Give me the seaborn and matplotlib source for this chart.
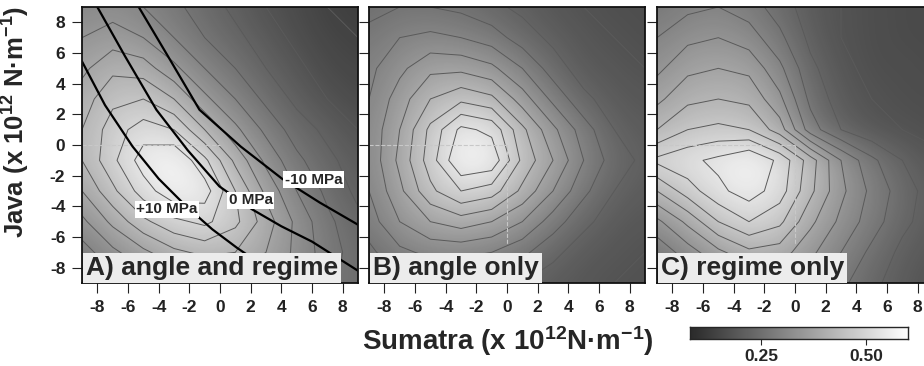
import numpy as np
import matplotlib
matplotlib.use("Agg")
import matplotlib.pyplot as plt
from matplotlib.colors import LinearSegmentedColormap
import seaborn as sns

# Nodos de la malla (x 10^12 N/m); filas de arriba (y=9) hacia abajo (y=-9)
grid_x = [-9, -7, -5, -3, -1, 1, 3, 5, 7, 9]
grid_y = [9, 7, 5, 3, 1, -1, -3, -5, -7, -9]

# A) angle and regime
panel_a = [
    [0.31, 0.32, 0.30, 0.27, 0.24, 0.21, 0.18, 0.16, 0.14, 0.13],
    [0.34, 0.36, 0.34, 0.30, 0.26, 0.23, 0.20, 0.17, 0.15, 0.14],
    [0.37, 0.41, 0.40, 0.35, 0.30, 0.26, 0.22, 0.19, 0.16, 0.15],
    [0.40, 0.45, 0.46, 0.42, 0.35, 0.30, 0.25, 0.21, 0.18, 0.16],
    [0.42, 0.48, 0.52, 0.50, 0.42, 0.35, 0.29, 0.24, 0.21, 0.18],
    [0.42, 0.49, 0.56, 0.58, 0.51, 0.41, 0.33, 0.27, 0.23, 0.20],
    [0.38, 0.45, 0.52, 0.57, 0.56, 0.46, 0.37, 0.30, 0.25, 0.21],
    [0.33, 0.39, 0.45, 0.49, 0.51, 0.47, 0.40, 0.33, 0.27, 0.23],
    [0.28, 0.33, 0.37, 0.41, 0.43, 0.42, 0.38, 0.33, 0.28, 0.24],
    [0.25, 0.28, 0.31, 0.33, 0.35, 0.36, 0.35, 0.31, 0.27, 0.24],
]

# B) angle only
panel_b = [
    [0.25, 0.26, 0.26, 0.25, 0.23, 0.21, 0.19, 0.18, 0.17, 0.17],
    [0.27, 0.30, 0.31, 0.30, 0.28, 0.24, 0.21, 0.19, 0.18, 0.17],
    [0.29, 0.33, 0.37, 0.37, 0.35, 0.30, 0.24, 0.20, 0.19, 0.18],
    [0.30, 0.36, 0.42, 0.45, 0.43, 0.36, 0.29, 0.23, 0.20, 0.19],
    [0.31, 0.38, 0.47, 0.55, 0.53, 0.43, 0.35, 0.28, 0.22, 0.20],
    [0.31, 0.39, 0.48, 0.58, 0.57, 0.45, 0.38, 0.30, 0.24, 0.21],
    [0.30, 0.37, 0.45, 0.50, 0.48, 0.41, 0.34, 0.27, 0.22, 0.20],
    [0.28, 0.34, 0.38, 0.40, 0.38, 0.34, 0.28, 0.23, 0.20, 0.19],
    [0.25, 0.29, 0.31, 0.31, 0.30, 0.27, 0.23, 0.20, 0.19, 0.18],
    [0.22, 0.24, 0.25, 0.25, 0.24, 0.22, 0.20, 0.19, 0.18, 0.18],
]

# C) regime only
panel_c = [
    [0.27, 0.29, 0.30, 0.28, 0.24, 0.20, 0.18, 0.17, 0.16, 0.16],
    [0.30, 0.33, 0.34, 0.32, 0.27, 0.21, 0.18, 0.17, 0.16, 0.16],
    [0.33, 0.37, 0.38, 0.37, 0.31, 0.23, 0.19, 0.17, 0.17, 0.16],
    [0.37, 0.41, 0.42, 0.41, 0.35, 0.25, 0.20, 0.18, 0.17, 0.17],
    [0.42, 0.46, 0.47, 0.46, 0.40, 0.28, 0.22, 0.19, 0.18, 0.17],
    [0.51, 0.53, 0.55, 0.58, 0.53, 0.44, 0.34, 0.27, 0.22, 0.19],
    [0.42, 0.48, 0.53, 0.56, 0.52, 0.43, 0.35, 0.29, 0.24, 0.20],
    [0.33, 0.39, 0.46, 0.50, 0.47, 0.39, 0.33, 0.28, 0.23, 0.20],
    [0.27, 0.32, 0.37, 0.41, 0.40, 0.35, 0.30, 0.25, 0.21, 0.19],
    [0.22, 0.26, 0.30, 0.33, 0.34, 0.31, 0.27, 0.23, 0.20, 0.18],
]

# Isolíneas de esfuerzo (panel A)
plus10_x = [-9.0, -7.5, -5.7, -4.0, -2.2, -0.5, 1.1, 3.0, 4.6]
plus10_y = [5.45, 2.6, -0.1, -2.2, -4.0, -5.5, -6.7, -8.0, -9.0]
zero_x = [-8.0, -6.2, -4.15, -2.1, -0.04, 2.1, 4.0, 6.0, 9.0]
zero_y = [9.0, 5.8, 2.3, -0.35, -2.7, -4.2, -5.3, -6.3, -8.2]
minus10_x = [-5.3, -3.4, -1.34, 1.35, 4.05, 6.5, 9.0]
minus10_y = [9.0, 5.8, 2.3, -0.1, -2.2, -3.75, -5.2]
mpa_labels = ['+10 MPa', '0 MPa', '-10 MPa']
mpa_label_x = [-3.45, 2.0, 6.1]
mpa_label_y = [-4.2, -3.6, -2.25]

panel_titles = ['A) angle and regime', 'B) angle only', 'C) regime only']
ticks = [-8, -6, -4, -2, 0, 2, 4, 6, 8]
cbar_ticks = [0.25, 0.50]
vmin, vmax = 0.08, 0.60
levels = np.arange(0.14, 0.56, 0.04)

sns.set_style('ticks')
plt.rcParams['font.family'] = ['Liberation Sans', 'DejaVu Sans']
plt.rcParams['font.weight'] = 'bold'
plt.rcParams['axes.unicode_minus'] = False
plt.rcParams['mathtext.fontset'] = 'custom'
plt.rcParams['mathtext.rm'] = 'Liberation Sans:bold'
plt.rcParams['mathtext.it'] = 'Liberation Sans:bold'
plt.rcParams['mathtext.bf'] = 'Liberation Sans:bold'

cmap = LinearSegmentedColormap.from_list('grey_white', ['#2a2a2a', '#ffffff'])

fig = plt.figure(figsize=(9.24, 3.66), dpi=100)
W, H = 924.0, 366.0
lefts = [82, 369, 657]
panels = [panel_a, panel_b, panel_c]

gx = np.array(grid_x)
gy = np.array(grid_y)[::-1]

for i, (left, data, title) in enumerate(zip(lefts, panels, panel_titles)):
    ax = fig.add_axes([left / W, (H - 283) / H, 276 / W, 276 / H])
    z = np.array(data)[::-1]
    ax.imshow(z, cmap=cmap, vmin=vmin, vmax=vmax, origin='lower',
              extent=(-10, 10, -10, 10), interpolation='bicubic', aspect='auto')
    ax.contour(gx, gy, z, levels=levels, colors='#5a5a5a', linewidths=0.7)

    # Líneas de referencia discontinuas
    ax.plot([-9, 0], [0, 0], ls='--', color='#c8c8c8', lw=0.8)
    if i > 0:
        ax.plot([0, 0], [0, -6.5], ls='--', color='#c8c8c8', lw=0.8)

    if i == 0:
        for cx, cy in [(plus10_x, plus10_y), (zero_x, zero_y), (minus10_x, minus10_y)]:
            sns.lineplot(x=cx, y=cy, ax=ax, color='black', lw=1.6, sort=False)
        for lab, lx, ly in zip(mpa_labels, mpa_label_x, mpa_label_y):
            ax.text(lx, ly, lab, ha='center', va='center', fontsize=11,
                    fontweight='bold',
                    bbox=dict(facecolor='white', edgecolor='none', pad=1.0))

    ax.text(0.015, 0.012, title, transform=ax.transAxes, fontsize=19,
            fontweight='bold', ha='left', va='bottom',
            bbox=dict(facecolor='#ececec', edgecolor='none', pad=2.0))

    ax.set_xlim(-9, 9)
    ax.set_ylim(-9, 9)
    ax.set_xticks(ticks)
    ax.set_yticks(ticks)
    ax.tick_params(direction='out', length=7, width=0.8, pad=5, labelsize=12.5,
                   colors='#222222')
    if i > 0:
        ax.set_yticklabels([])
    for sp in ax.spines.values():
        sp.set_linewidth(1.3)
        sp.set_color('#111111')

# Etiquetas de ejes
fig.text(16 / W, 1 - 122 / H, 'Java (x 10$^{12}$ N·m$^{-1}$)', rotation=90,
         ha='center', va='center', fontsize=18.5, fontweight='bold')
fig.text(508 / W, 1 - 341 / H, 'Sumatra (x 10$^{12}$N·m$^{-1}$)',
         ha='center', va='center', fontsize=20, fontweight='bold')

# Barra de color
cax = fig.add_axes([690 / W, (H - 339) / H, 218 / W, 12 / H])
grad = np.linspace(vmin, vmax, 256)[None, :]
cax.imshow(grad, cmap=cmap, vmin=vmin, vmax=vmax, aspect='auto',
           extent=(vmin, vmax, 0, 1))
cax.set_yticks([])
cax.set_xticks(cbar_ticks)
cax.set_xticklabels(['0.25', '0.50'])
cax.tick_params(axis='x', direction='out', length=4, width=0.8, pad=3,
                labelsize=12.5)
for sp in cax.spines.values():
    sp.set_linewidth(1.0)

fig.savefig('out.png', dpi=100)
